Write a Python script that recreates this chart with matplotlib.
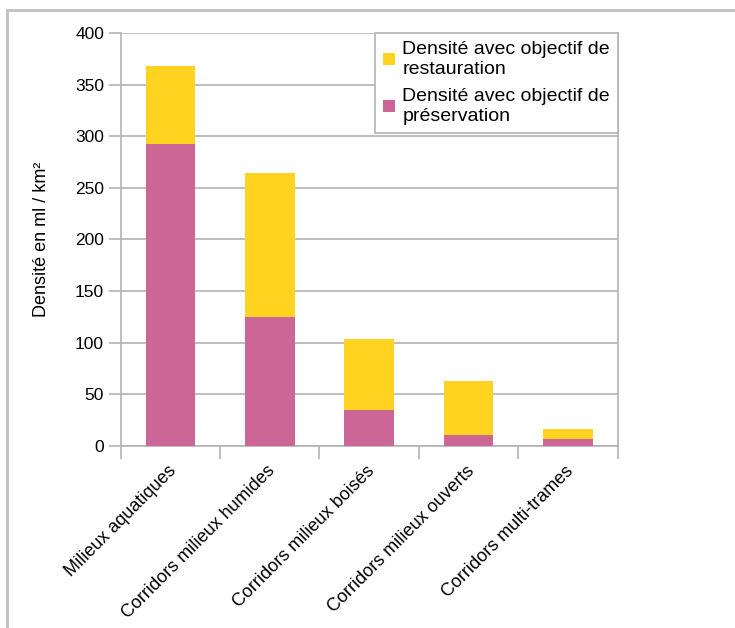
import numpy as np
import matplotlib
matplotlib.use("Agg")
import matplotlib.pyplot as plt
import matplotlib.transforms as mtransforms
from matplotlib.lines import Line2D

plt.rcParams['font.family'] = ['Liberation Sans', 'DejaVu Sans']

categories = ["Milieux aquatiques", "Corridors milieux humides", "Corridors milieux boisés",
              "Corridors milieux ouverts", "Corridors multi-trames"]
preservation = [292.3, 124.5, 34.3, 10.4, 6.2]
restauration = [76.3, 139.7, 68.9, 52.6, 9.7]
yticks = [0, 50, 100, 150, 200, 250, 300, 350, 400]

col_pres = '#cb6697'
col_rest = '#ffd320'
grid_col = '#b3b3b3'

fig = plt.figure(figsize=(7.35, 6.28), dpi=100)
ax = fig.add_axes([0.1642, 0.2903, 0.6762, 0.6567])

x = np.arange(len(categories))
b1 = ax.bar(x, preservation, width=0.5, color=col_pres, zorder=3)
b2 = ax.bar(x, restauration, width=0.5, bottom=preservation, color=col_rest, zorder=3)

ax.set_xlim(-0.5, len(categories) - 0.5)
ax.set_ylim(0, 400)
ax.set_yticks(yticks)
ax.yaxis.grid(True, color=grid_col, linewidth=1.2, zorder=0)
ax.tick_params(axis='y', length=9, color=grid_col, width=1.2, labelsize=12.5, pad=3)

# category ticks on boundaries, labels centered
ax.set_xticks(np.arange(-0.5, len(categories)), minor=False)
ax.set_xticklabels([])
ax.set_xticks(x, minor=True)
labels = ax.set_xticklabels(categories, minor=True, rotation=45, ha='right', va='top',
                            rotation_mode='anchor', fontsize=13)
ax.tick_params(axis='x', which='major', length=9, color=grid_col, width=1.2)
ax.tick_params(axis='x', which='minor', length=0, pad=12)
off = mtransforms.ScaledTranslation(-3 / 100, 0, fig.dpi_scale_trans)
for lab in labels:
    lab.set_transform(lab.get_transform() + off)

for s in ['left', 'bottom', 'right']:
    ax.spines[s].set_color(grid_col)
    ax.spines[s].set_linewidth(1.2)
ax.spines['top'].set_visible(False)

ax.set_ylabel("Densité en ml / km²", fontsize=13, labelpad=18)

leg = ax.legend([b2, b1],
                ["Densité avec objectif de\nrestauration",
                 "Densité avec objectif de\npréservation"],
                loc='upper right', bbox_to_anchor=(1, 1), borderaxespad=0,
                fancybox=False, framealpha=1, edgecolor=grid_col, fontsize=14,
                handlelength=0.6, handleheight=0.6, handletextpad=0.4,
                labelspacing=0.55, borderpad=0.4)
leg.get_frame().set_linewidth(1.2)
leg.set_zorder(5)
for t in leg.get_texts():
    t.set_linespacing(1.2)

# outer frame (top and left visible)
fig.add_artist(Line2D([7 / 735, 1], [1 - 10 / 628, 1 - 10 / 628],
                      transform=fig.transFigure, color='#c0c0c0', linewidth=2))
fig.add_artist(Line2D([7 / 735, 7 / 735], [0, 1 - 10 / 628],
                      transform=fig.transFigure, color='#c0c0c0', linewidth=2))

fig.savefig("out.png", dpi=100)
